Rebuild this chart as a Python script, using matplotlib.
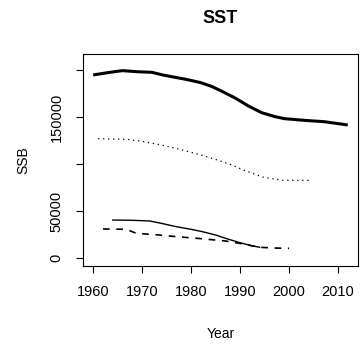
import matplotlib
matplotlib.use("Agg")
import matplotlib.pyplot as plt

# thick solid series
yr_a = [1960, 1963.4, 1966, 1968.8, 1972, 1974.2, 1976, 1978.9, 1982, 1984.3, 1986.3, 1989, 1991.7, 1994.4, 1997.1, 1999.1, 2003.2, 2007.2, 2012]
ssb_a = [194700, 197500, 199300, 198200, 197500, 194700, 192900, 190100, 186500, 182300, 177300, 170200, 161700, 154600, 150400, 148200, 146400, 145000, 141500]

# dotted series
yr_b = [1961, 1967, 1970, 1973, 1977, 1982, 1985, 1988, 1991, 1995, 1999, 2004.3]
ssb_b = [126900, 126200, 124000, 121200, 116500, 109600, 104800, 99600, 93000, 85500, 82600, 82600]

# thin solid series
yr_c = [1964, 1968, 1971.5, 1974, 1977, 1980, 1982.3, 1985, 1987, 1989.7, 1992, 1994]
ssb_c = [40400, 40100, 39400, 36800, 33300, 30500, 28000, 24500, 21000, 16700, 13500, 11400]

# dashed series
yr_d = [1962, 1966.8, 1968.8, 1973, 1977, 1982, 1987, 1990, 1994, 1997, 2000]
ssb_d = [30900, 30500, 26200, 24700, 22700, 20600, 18100, 15500, 11400, 10600, 10300]

plt.rcParams['font.family'] = ['Liberation Sans', 'DejaVu Sans']

fig = plt.figure(figsize=(3.63, 3.45), dpi=100)
ax = fig.add_axes([0.2287, 0.229, 0.7573, 0.6145])

ax.plot(yr_a, ssb_a, color='black', lw=2.2, solid_capstyle='butt')
ax.plot(yr_b, ssb_b, color='black', lw=0.9, linestyle=(0, (1, 3)))
ax.plot(yr_c, ssb_c, color='black', lw=1.0)
ax.plot(yr_d, ssb_d, color='black', lw=1.2, linestyle=(0, (4, 4)))

ax.set_xlim(1957.92, 2014.08)
ax.set_ylim(-8500, 217000)
ax.set_xticks([1960, 1970, 1980, 1990, 2000, 2010])
ax.set_yticks([0, 50000, 100000, 150000, 200000])
ax.set_yticklabels(['0', '50000', '', '150000', ''], rotation=90, va='center')
ax.tick_params(direction='out', length=5, width=0.8, labelsize=10.5, color='black')
ax.tick_params(axis='y', pad=9)
ax.tick_params(axis='x', pad=9)
for s in ax.spines.values():
    s.set_linewidth(0.8)

ax.set_xlabel('Year', fontsize=10, labelpad=20)
ax.set_ylabel('SSB', fontsize=10, labelpad=14)
ax.set_title('SST', fontsize=13, fontweight='bold', pad=22)

fig.savefig('out.png', dpi=100)
